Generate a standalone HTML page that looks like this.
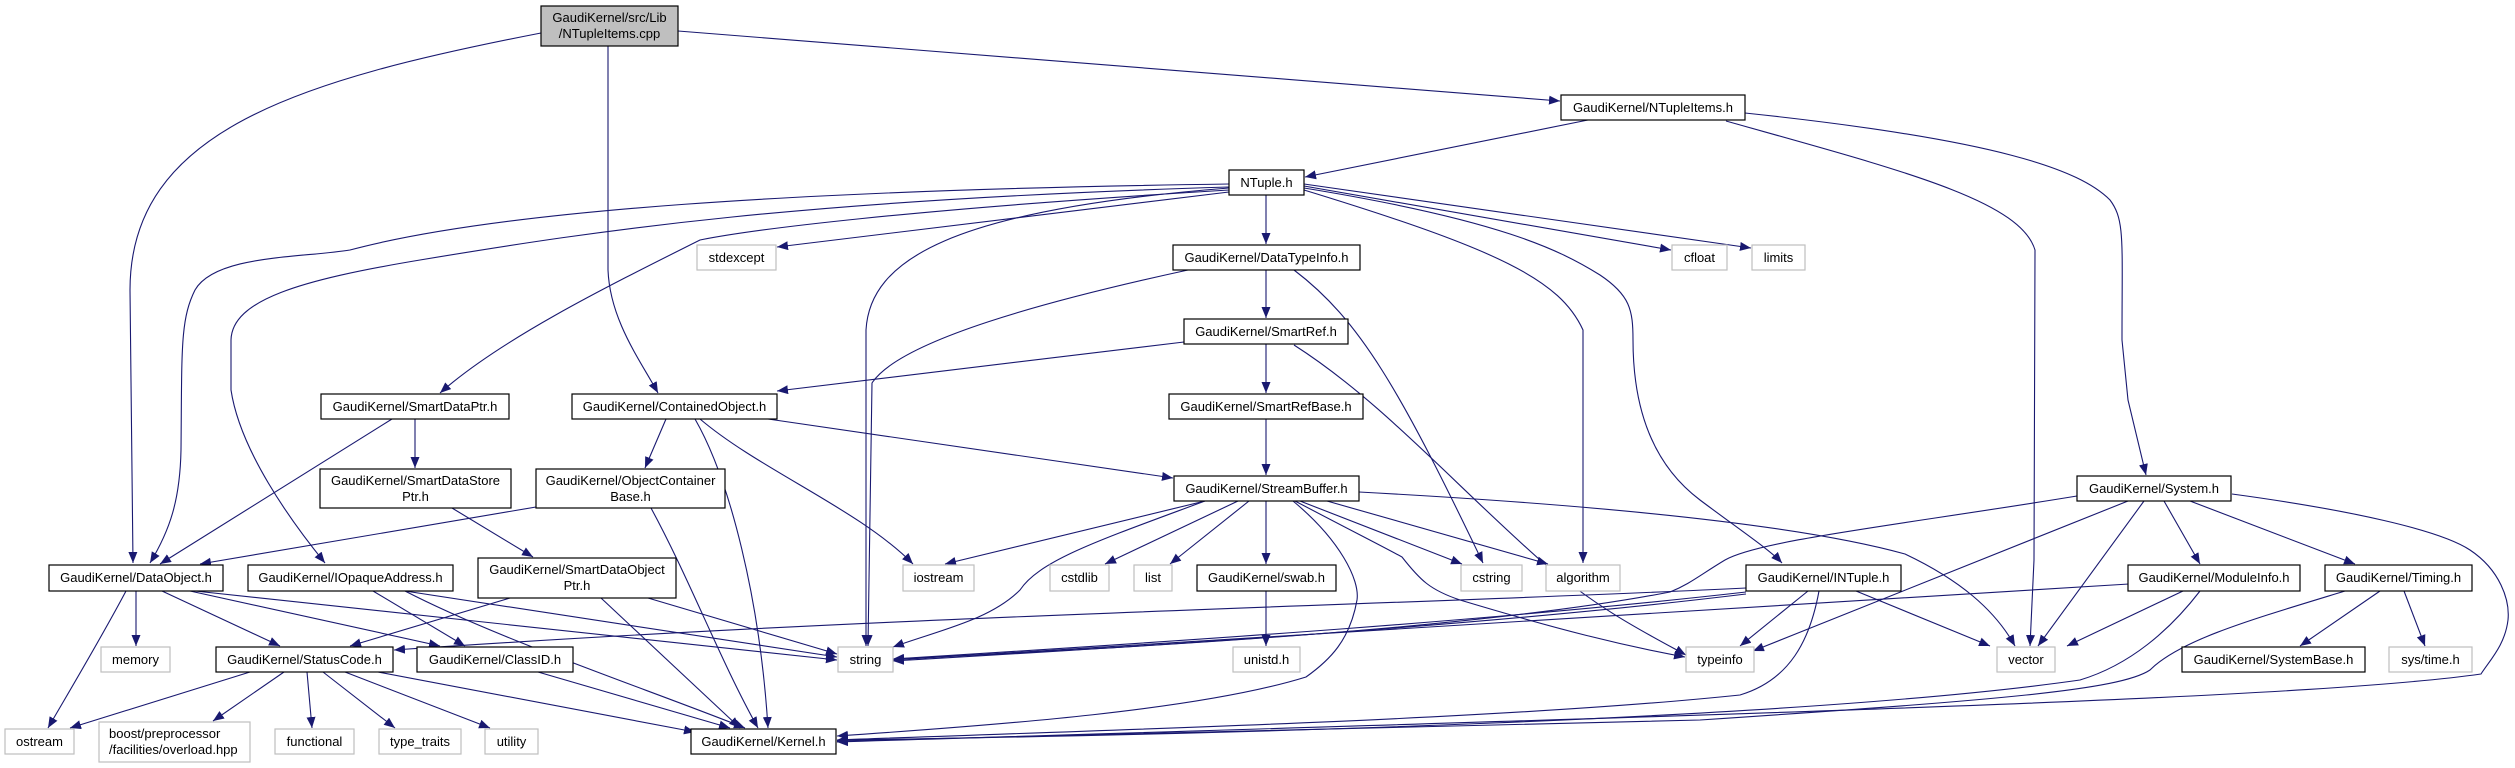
<!DOCTYPE html>
<html><head><meta charset="utf-8"><style>
html,body{margin:0;padding:0;background:#fff;}
svg{display:block;}
text{font-family:"Liberation Sans",sans-serif;font-size:13px;fill:#000;}
.e{fill:none;stroke:#191970;stroke-width:1.1;marker-end:url(#a);}
.b{fill:#fff;stroke:#000;stroke-width:1.2;}
.g{fill:#fff;stroke:#bfbfbf;stroke-width:1.2;}
</style></head><body>
<svg width="2515" height="768" viewBox="0 0 2515 768" xmlns="http://www.w3.org/2000/svg">
<defs><marker id="a" markerUnits="userSpaceOnUse" markerWidth="12" markerHeight="10" refX="11" refY="4.5" orient="auto"><path d="M0,0 L11,4.5 L0,9 z" fill="#191970"/></marker></defs>

<!-- edges -->
<path class="e" d="M541,33 C300,80 130,130 130,290 L133,563"/>
<path class="e" d="M608,46 L608,270 C610,320 640,360 658,393"/>
<path class="e" d="M678,31 L1560,101"/>
<path class="e" d="M1588,120 L1305,177"/>
<path class="e" d="M1726,121 C1900,170 2020,200 2035,250 L2034,560 L2030,646"/>
<path class="e" d="M1745,113 C2000,140 2080,170 2110,200 C2125,220 2122,240 2122,340 L2128,400 L2146,475"/>
<path class="e" d="M1266,195 L1266,244"/>
<path class="e" d="M1266,270 L1266,318"/>
<path class="e" d="M1266,344 L1266,393"/>
<path class="e" d="M1266,419 L1266,475"/>
<path class="e" d="M1229,184 C800,190 500,210 350,250 C300,258 215,255 195,290 C180,320 182,350 181,450 C180,500 170,530 150,563"/>
<path class="e" d="M1229,187 C800,200 600,230 420,260 C300,280 232,300 231,340 L231,390 C240,450 290,520 325,563"/>
<path class="e" d="M1229,190 C900,210 750,230 700,240 C600,290 500,340 440,393"/>
<path class="e" d="M1229,192 L777,247"/>
<path class="e" d="M1229,188 C950,210 870,260 866,330 L866,646"/>
<path class="e" d="M1304,186 L1671,250"/>
<path class="e" d="M1304,184 L1751,248"/>
<path class="e" d="M1304,190 C1500,250 1560,280 1583,330 L1583,563"/>
<path class="e" d="M1304,188 C1500,220 1560,250 1600,275 C1630,295 1633,310 1633,340 C1633,420 1660,470 1700,500 C1740,530 1770,550 1782,563"/>
<path class="e" d="M1188,270 C1050,300 900,340 872,383 L868,646"/>
<path class="e" d="M1294,270 C1360,320 1400,390 1483,563"/>
<path class="e" d="M1294,345 C1380,400 1450,480 1540,560 C1600,610 1640,630 1686,655"/>
<path class="e" d="M1184,342 L777,391"/>
<path class="e" d="M666,419 L645,468"/>
<path class="e" d="M695,419 C730,480 760,600 768,728"/>
<path class="e" d="M700,419 C760,470 860,510 913,564"/>
<path class="e" d="M768,419 L1173,478"/>
<path class="e" d="M392,419 L160,564"/>
<path class="e" d="M415,419 L415,468"/>
<path class="e" d="M452,508 L533,557"/>
<path class="e" d="M536,507 L200,564"/>
<path class="e" d="M651,508 C690,580 720,660 758,728"/>
<path class="e" d="M510,598 L350,646"/>
<path class="e" d="M601,598 L740,728"/>
<path class="e" d="M648,598 L837,654"/>
<path class="e" d="M126,591 C100,640 70,690 48,728"/>
<path class="e" d="M136,591 L136,646"/>
<path class="e" d="M162,591 L280,646"/>
<path class="e" d="M190,591 L440,646"/>
<path class="e" d="M195,591 L837,660"/>
<path class="e" d="M373,591 L465,646"/>
<path class="e" d="M405,591 C500,640 650,690 745,728"/>
<path class="e" d="M405,591 L837,657"/>
<path class="e" d="M250,672 L70,728"/>
<path class="e" d="M284,672 L213,721"/>
<path class="e" d="M307,672 L312,728"/>
<path class="e" d="M323,672 L395,728"/>
<path class="e" d="M345,672 L490,728"/>
<path class="e" d="M378,672 L695,732"/>
<path class="e" d="M538,672 L730,728"/>
<path class="e" d="M1746,588 C1400,605 900,615 394,650"/>
<path class="e" d="M1746,592 C1500,620 1200,640 893,659"/>
<path class="e" d="M1746,594 C1500,624 1200,643 893,661"/>
<path class="e" d="M2129,584 C1700,610 1300,635 893,660"/>
<path class="e" d="M1808,591 L1740,646"/>
<path class="e" d="M1856,591 L1990,646"/>
<path class="e" d="M1819,591 C1810,640 1790,680 1740,695 C1500,720 1100,730 837,740"/>
<path class="e" d="M1205,501 L945,564"/>
<path class="e" d="M1205,501 C1100,540 1040,560 1020,590 C990,620 940,630 893,647"/>
<path class="e" d="M1238,501 L1105,564"/>
<path class="e" d="M1249,501 L1170,564"/>
<path class="e" d="M1266,501 L1266,564"/>
<path class="e" d="M1293,501 C1340,540 1360,580 1357,600 C1350,640 1330,660 1306,677 C1200,710 1000,725 837,736"/>
<path class="e" d="M1300,501 L1462,564"/>
<path class="e" d="M1327,501 L1548,564"/>
<path class="e" d="M1295,501 C1350,530 1380,545 1402,557 C1420,580 1430,590 1460,600 C1560,630 1620,645 1685,657"/>
<path class="e" d="M1359,492 C1600,505 1800,525 1905,554 C1960,580 1995,610 2015,646"/>
<path class="e" d="M1266,591 L1266,646"/>
<path class="e" d="M2128,501 L1753,651"/>
<path class="e" d="M2144,501 L2038,646"/>
<path class="e" d="M2164,501 L2200,564"/>
<path class="e" d="M2190,501 L2355,564"/>
<path class="e" d="M2077,496 C1900,525 1760,540 1725,560 C1700,575 1690,584 1670,592 C1500,625 1200,645 893,659"/>
<path class="e" d="M2232,494 C2350,510 2440,530 2470,550 C2500,570 2510,600 2508,620 C2505,645 2490,660 2481,674 C2300,700 1700,715 837,742"/>
<path class="e" d="M2183,591 L2067,646"/>
<path class="e" d="M2200,591 C2170,630 2130,665 2080,680 C1800,720 1200,735 837,740"/>
<path class="e" d="M2345,591 C2250,620 2180,640 2150,670 C2120,690 2000,700 1700,720 C1400,730 1100,737 837,741"/>
<path class="e" d="M2380,591 L2300,646"/>
<path class="e" d="M2404,591 L2425,646"/>

<!-- nodes -->
<rect x="541" y="6" width="137" height="40" fill="#bfbfbf" stroke="#000" stroke-width="1.2"/>
<text x="609.5" y="22" text-anchor="middle">GaudiKernel/src/Lib</text>
<text x="609.5" y="38" text-anchor="middle">/NTupleItems.cpp</text>

<rect class="b" x="1561" y="95" width="184" height="25"/><text x="1653" y="112" text-anchor="middle">GaudiKernel/NTupleItems.h</text>
<rect class="b" x="1229" y="170" width="75" height="25"/><text x="1266.5" y="187" text-anchor="middle">NTuple.h</text>
<rect class="b" x="1173" y="245" width="187" height="25"/><text x="1266.5" y="262" text-anchor="middle">GaudiKernel/DataTypeInfo.h</text>
<rect class="b" x="1184" y="319" width="164" height="25"/><text x="1266" y="336" text-anchor="middle">GaudiKernel/SmartRef.h</text>
<rect class="b" x="1169" y="394" width="194" height="25"/><text x="1266" y="411" text-anchor="middle">GaudiKernel/SmartRefBase.h</text>
<rect class="b" x="1174" y="476" width="185" height="25"/><text x="1266.5" y="493" text-anchor="middle">GaudiKernel/StreamBuffer.h</text>
<rect class="b" x="321" y="394" width="188" height="25"/><text x="415" y="411" text-anchor="middle">GaudiKernel/SmartDataPtr.h</text>
<rect class="b" x="572" y="394" width="205" height="25"/><text x="674.5" y="411" text-anchor="middle">GaudiKernel/ContainedObject.h</text>
<rect class="b" x="320" y="469" width="191" height="39"/><text x="415.5" y="485" text-anchor="middle">GaudiKernel/SmartDataStore</text><text x="415.5" y="501" text-anchor="middle">Ptr.h</text>
<rect class="b" x="536" y="469" width="189" height="39"/><text x="630.5" y="485" text-anchor="middle">GaudiKernel/ObjectContainer</text><text x="630.5" y="501" text-anchor="middle">Base.h</text>
<rect class="b" x="49" y="565" width="174" height="26"/><text x="136" y="582" text-anchor="middle">GaudiKernel/DataObject.h</text>
<rect class="b" x="248" y="565" width="205" height="26"/><text x="350.5" y="582" text-anchor="middle">GaudiKernel/IOpaqueAddress.h</text>
<rect class="b" x="478" y="558" width="198" height="40"/><text x="577" y="574" text-anchor="middle">GaudiKernel/SmartDataObject</text><text x="577" y="590" text-anchor="middle">Ptr.h</text>
<rect class="g" x="101" y="647" width="69" height="25"/><text x="135.5" y="664" text-anchor="middle">memory</text>
<rect class="b" x="216" y="647" width="177" height="25"/><text x="304.5" y="664" text-anchor="middle">GaudiKernel/StatusCode.h</text>
<rect class="b" x="417" y="647" width="156" height="25"/><text x="495" y="664" text-anchor="middle">GaudiKernel/ClassID.h</text>
<rect class="g" x="5" y="729" width="69" height="25"/><text x="39.5" y="746" text-anchor="middle">ostream</text>
<rect class="g" x="99" y="722" width="151" height="40"/><text x="109" y="738">boost/preprocessor</text><text x="109" y="754">/facilities/overload.hpp</text>
<rect class="g" x="275" y="729" width="79" height="25"/><text x="314.5" y="746" text-anchor="middle">functional</text>
<rect class="g" x="379" y="729" width="82" height="25"/><text x="420" y="746" text-anchor="middle">type_traits</text>
<rect class="g" x="485" y="729" width="53" height="25"/><text x="511.5" y="746" text-anchor="middle">utility</text>
<rect class="b" x="691" y="729" width="145" height="25"/><text x="763.5" y="746" text-anchor="middle">GaudiKernel/Kernel.h</text>
<rect class="g" x="838" y="647" width="55" height="25"/><text x="865.5" y="664" text-anchor="middle">string</text>
<rect class="g" x="903" y="565" width="71" height="26"/><text x="938.5" y="582" text-anchor="middle">iostream</text>
<rect class="g" x="1050" y="565" width="59" height="26"/><text x="1079.5" y="582" text-anchor="middle">cstdlib</text>
<rect class="g" x="1134" y="565" width="38" height="26"/><text x="1153" y="582" text-anchor="middle">list</text>
<rect class="b" x="1197" y="565" width="139" height="26"/><text x="1266.5" y="582" text-anchor="middle">GaudiKernel/swab.h</text>
<rect class="g" x="1461" y="565" width="61" height="26"/><text x="1491.5" y="582" text-anchor="middle">cstring</text>
<rect class="g" x="1546" y="565" width="74" height="26"/><text x="1583" y="582" text-anchor="middle">algorithm</text>
<rect class="g" x="1233" y="647" width="67" height="25"/><text x="1266.5" y="664" text-anchor="middle">unistd.h</text>
<rect class="g" x="697" y="245" width="79" height="25"/><text x="736.5" y="262" text-anchor="middle">stdexcept</text>
<rect class="g" x="1672" y="245" width="55" height="25"/><text x="1699.5" y="262" text-anchor="middle">cfloat</text>
<rect class="g" x="1752" y="245" width="53" height="25"/><text x="1778.5" y="262" text-anchor="middle">limits</text>
<rect class="b" x="2077" y="476" width="154" height="25"/><text x="2154" y="493" text-anchor="middle">GaudiKernel/System.h</text>
<rect class="b" x="1746" y="565" width="155" height="26"/><text x="1823.5" y="582" text-anchor="middle">GaudiKernel/INTuple.h</text>
<rect class="b" x="2128" y="565" width="172" height="26"/><text x="2214" y="582" text-anchor="middle">GaudiKernel/ModuleInfo.h</text>
<rect class="b" x="2325" y="565" width="147" height="26"/><text x="2398.5" y="582" text-anchor="middle">GaudiKernel/Timing.h</text>
<rect class="g" x="1686" y="647" width="68" height="25"/><text x="1720" y="664" text-anchor="middle">typeinfo</text>
<rect class="g" x="1997" y="647" width="58" height="25"/><text x="2026" y="664" text-anchor="middle">vector</text>
<rect class="b" x="2182" y="647" width="183" height="25"/><text x="2273.5" y="664" text-anchor="middle">GaudiKernel/SystemBase.h</text>
<rect class="g" x="2389" y="647" width="83" height="25"/><text x="2430.5" y="664" text-anchor="middle">sys/time.h</text>
</svg>
</body></html>
